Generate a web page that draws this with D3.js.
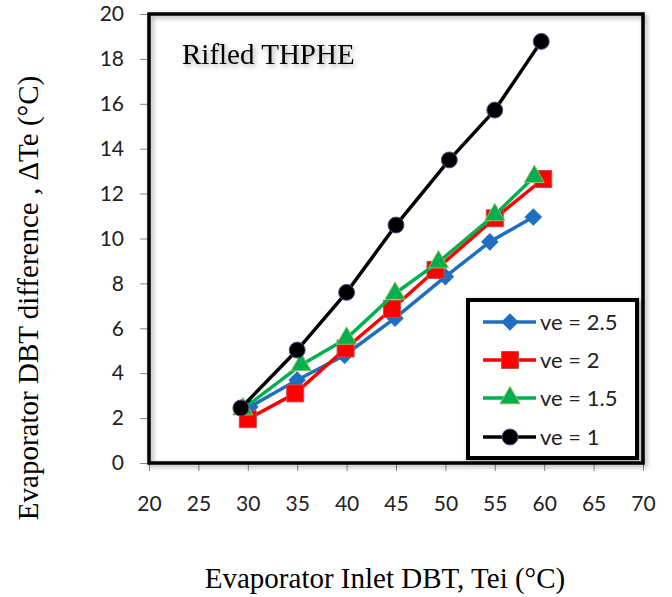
<!DOCTYPE html>
<html>
<head>
<meta charset="utf-8">
<script src="https://cdn.jsdelivr.net/npm/d3@7"></script>
<style>
  html, body { margin: 0; padding: 0; background: #fff; }
  svg { display: block; }
</style>
</head>
<body>
<div id="chart"></div>
<script>
// Evaporator inlet DBT (°C) for each air velocity series
const seriesNames = ["ve = 2.5", "ve = 2", "ve = 1.5", "ve = 1"];
const xVe25 = [30.2, 35, 39.8, 44.9, 50, 54.5, 58.9];
const yVe25 = [2.5, 3.7, 4.8, 6.45, 8.3, 9.85, 10.96];
const xVe2 = [30, 34.8, 39.9, 44.6, 49, 55, 59.9];
const yVe2 = [1.95, 3.1, 5.1, 6.86, 8.6, 10.9, 12.65];
const xVe15 = [29.5, 35.4, 40, 44.9, 49.3, 55, 59];
const yVe15 = [2.4, 4.37, 5.55, 7.55, 8.95, 11.05, 12.75];
const xVe1 = [29.3, 35, 40, 45, 50.4, 55, 59.7];
const yVe1 = [2.45, 5.03, 7.6, 10.6, 13.5, 15.72, 18.78];

const xTicks = [20, 25, 30, 35, 40, 45, 50, 55, 60, 65, 70];
const yTicks = [0, 2, 4, 6, 8, 10, 12, 14, 16, 18, 20];

const colors = ["#1f6fc0", "#ff0000", "#00b050", "#000000"];
const strokes = ["#1f6fc0", "#c0504d", "#9bbb59", "#5b4a8f"];
// diamond is drawn as a square turned 45 degrees
const shapes = [d3.symbolSquare, d3.symbolSquare, d3.symbolTriangle, d3.symbolCircle];
const rotations = [45, 0, 0, 0];
const sizes = [130, 290, 175, 200];

const series = [
  { name: seriesNames[0], x: xVe25, y: yVe25 },
  { name: seriesNames[1], x: xVe2, y: yVe2 },
  { name: seriesNames[2], x: xVe15, y: yVe15 },
  { name: seriesNames[3], x: xVe1, y: yVe1 }
];

const W = 672, H = 597;
const plotL = 149, plotT = 14, plotR = 643, plotB = 463;

const svg = d3.select("#chart").append("svg")
  .attr("width", W).attr("height", H);

const defs = svg.append("defs");
const f = defs.append("filter").attr("id", "shadow")
  .attr("x", "-20%").attr("y", "-20%").attr("width", "140%").attr("height", "140%");
f.append("feDropShadow").attr("dx", 2).attr("dy", 2)
  .attr("stdDeviation", 2.5).attr("flood-color", "#000").attr("flood-opacity", 0.35);

const x = d3.scaleLinear().domain([20, 70]).range([plotL, plotR]);
const y = d3.scaleLinear().domain([0, 20]).range([plotB, plotT]);

// axes with outside tick marks
const xAxis = svg.append("g").attr("transform", `translate(0,${plotB})`)
  .call(d3.axisBottom(x).tickValues(xTicks).tickSize(8).tickPadding(25).tickFormat(d3.format("d")));
const yAxis = svg.append("g").attr("transform", `translate(${plotL},0)`)
  .call(d3.axisLeft(y).tickValues(yTicks).tickSize(9).tickPadding(16).tickFormat(d3.format("d")));
[xAxis, yAxis].forEach(g => {
  g.select(".domain").attr("stroke", "#888");
  g.selectAll(".tick line").attr("stroke", "#888").attr("stroke-width", 1);
  g.selectAll(".tick text")
    .attr("fill", "#222")
    .style("font-family", "Lato, 'Open Sans', sans-serif")
    .style("font-size", "21px");
});

// plot frame
svg.append("rect")
  .attr("x", plotL).attr("y", plotT)
  .attr("width", plotR - plotL).attr("height", plotB - plotT)
  .attr("fill", "none").attr("stroke", "#000").attr("stroke-width", 3.5)
  .attr("filter", "url(#shadow)");

// series lines and markers
const line = d3.line().x(d => x(d[0])).y(d => y(d[1]));
series.forEach((s, i) => {
  const pts = s.x.map((v, k) => [v, s.y[k]]);
  svg.append("path").datum(pts)
    .attr("d", line)
    .attr("fill", "none")
    .attr("stroke", colors[i])
    .attr("stroke-width", 3.5)
    .attr("stroke-linejoin", "round");
  svg.append("g").selectAll("path").data(pts).join("path")
    .attr("transform", d => `translate(${x(d[0])},${y(d[1])}) rotate(${rotations[i]})`)
    .attr("d", d3.symbol().type(shapes[i]).size(sizes[i]))
    .attr("fill", colors[i])
    .attr("stroke", strokes[i])
    .attr("stroke-width", 1);
});

// label inside plot
svg.append("text")
  .attr("x", 182).attr("y", 64)
  .attr("filter", "url(#shadow)")
  .style("font-family", "'Liberation Serif', 'Times New Roman', serif")
  .style("font-size", "29px")
  .attr("fill", "#000")
  .text("Rifled THPHE");

// legend
const lg = svg.append("g");
lg.append("rect")
  .attr("x", 468).attr("y", 300).attr("width", 169).attr("height", 158)
  .attr("fill", "#fff").attr("stroke", "#000").attr("stroke-width", 4)
  .attr("filter", "url(#shadow)");
const legendY = [322, 360, 398, 437];
series.forEach((s, i) => {
  const ly = legendY[i];
  lg.append("line").attr("x1", 483).attr("x2", 536).attr("y1", ly).attr("y2", ly)
    .attr("stroke", colors[i]).attr("stroke-width", 3.5);
  lg.append("path").attr("transform", `translate(510,${ly}) rotate(${rotations[i]})`)
    .attr("d", d3.symbol().type(shapes[i]).size(sizes[i]))
    .attr("fill", colors[i]).attr("stroke", strokes[i]).attr("stroke-width", 1);
  lg.append("text").attr("x", 540).attr("y", ly).attr("dy", "0.35em")
    .style("font-family", "Lato, 'Open Sans', sans-serif")
    .style("font-size", "22px").attr("fill", "#222")
    .text(s.name);
});

// axis titles
svg.append("text")
  .attr("x", 385).attr("y", 588)
  .attr("text-anchor", "middle")
  .style("font-family", "'Liberation Serif', 'Times New Roman', serif")
  .style("font-size", "29px")
  .attr("fill", "#000")
  .text("Evaporator Inlet DBT, Tei (°C)");

svg.append("text")
  .attr("transform", "translate(38,298) rotate(-90)")
  .attr("text-anchor", "middle")
  .style("font-family", "'Liberation Serif', 'Times New Roman', serif")
  .style("font-size", "29px")
  .attr("fill", "#000")
  .text("Evaporator DBT difference , ΔTe (°C)");
</script>
</body>
</html>
